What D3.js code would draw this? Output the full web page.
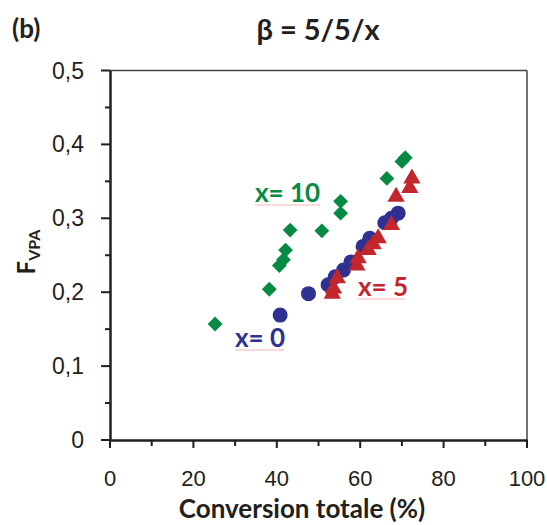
<!DOCTYPE html>
<html><head><meta charset="utf-8">
<script src="https://cdn.jsdelivr.net/npm/d3@7"></script>
<style>body{margin:0;background:#fff}svg{display:block;font-family:Lato,"Open Sans",sans-serif}</style>
</head><body><svg id="c" width="547" height="525"></svg>
<script>
// Series x = 0 (blue circles)
const x0Conv = [40.8, 47.6, 52.3, 54.0, 56.0, 57.8, 60.7, 62.3, 65.9, 67.5, 69.1];
const x0F    = [0.169, 0.198, 0.210, 0.221, 0.230, 0.241, 0.262, 0.273, 0.294, 0.300, 0.307];
// Series x = 5 (red triangles)
const x5Conv = [53.3, 53.6, 54.5, 59.2, 59.5, 61.9, 63.1, 64.3, 67.5, 68.6, 71.9, 72.4];
const x5F    = [0.198, 0.205, 0.219, 0.236, 0.246, 0.257, 0.265, 0.273, 0.291, 0.329, 0.341, 0.354];
// Series x = 10 (green diamonds)
const x10Conv = [25.2, 38.2, 40.6, 41.6, 42.1, 43.2, 50.8, 55.3, 55.3, 66.4, 70.0, 70.8];
const x10F    = [0.157, 0.204, 0.236, 0.244, 0.257, 0.284, 0.283, 0.307, 0.323, 0.354, 0.377, 0.382];
const xTicks = [0, 20, 40, 60, 80, 100];
const yTicks = [0, 0.1, 0.2, 0.3, 0.4, 0.5];

const svg = d3.select("#c");
const ink = "#231f20";
const cBlue = "#2e3192", cRed = "#c1272d", cGreen = "#078a43";
const x = d3.scaleLinear().domain([0, 100]).range([110, 527]);
const y = d3.scaleLinear().domain([0, 0.5]).range([440, 70.5]);

// frame (top & right)
svg.append("line").attr("x1", x(0)).attr("x2", x(100)).attr("y1", y(0.5)).attr("y2", y(0.5)).attr("stroke", "#444").attr("stroke-width", 1.5);
svg.append("line").attr("x1", x(100)).attr("x2", x(100)).attr("y1", y(0.5)).attr("y2", y(0)).attr("stroke", "#444").attr("stroke-width", 1.5);

// x axis
const gx = svg.append("g").attr("transform", `translate(0,${y(0)})`);
gx.call(d3.axisBottom(x).tickValues(d3.range(0, 101, 10)).tickSize(0).tickFormat(""));
gx.select(".domain").attr("stroke", ink).attr("stroke-width", 2.5);
gx.selectAll(".tick line").remove();
d3.range(0, 101, 10).forEach(v => {
  gx.append("line").attr("x1", x(v)).attr("x2", x(v)).attr("y1", 0).attr("y2", v % 20 === 0 ? 8 : 6)
    .attr("stroke", ink).attr("stroke-width", 2);
});
gx.selectAll(".tlab").data(xTicks).join("text").attr("class", "tlab")
  .attr("x", d => x(d)).attr("y", 46).attr("text-anchor", "middle")
  .attr("font-size", 22).attr("fill", ink).text(d => d);

// y axis
const gy = svg.append("g").attr("transform", `translate(${x(0)},0)`);
gy.call(d3.axisLeft(y).tickValues(yTicks).tickSize(0).tickFormat(""));
gy.select(".domain").attr("stroke", ink).attr("stroke-width", 2.5);
gy.selectAll(".tick line").remove();
d3.range(0, 11).forEach(i => {
  const v = i * 0.05;
  gy.append("line").attr("x1", 0).attr("x2", i % 2 === 0 ? -9 : -5).attr("y1", y(v)).attr("y2", y(v))
    .attr("stroke", ink).attr("stroke-width", 2);
});
gy.selectAll(".tlab").data(yTicks).join("text").attr("class", "tlab")
  .attr("x", -26).attr("y", d => y(d)).attr("dy", "0.35em").attr("text-anchor", "end")
  .attr("font-size", 23).attr("fill", ink).text(d => d === 0 ? "0" : d3.format(".1f")(d).replace(".", ","));

// titles
svg.append("text").attr("x", 12).attr("y", 38).attr("font-size", 26).attr("font-weight", "bold").attr("fill", ink).text("(b)");
svg.append("text").attr("x", 318).attr("y", 40).attr("text-anchor", "middle").attr("font-size", 29).attr("font-weight", "bold").attr("fill", ink).text("β = 5/5/x");
svg.append("text").attr("x", 302).attr("y", 518).attr("text-anchor", "middle").attr("font-size", 26).attr("font-weight", "bold").attr("fill", ink).text("Conversion totale (%)");
const yt = svg.append("text").attr("transform", "translate(35,252) rotate(-90)").attr("text-anchor", "middle")
  .attr("font-weight", "bold").attr("fill", ink).attr("font-size", 24);
yt.append("tspan").text("F");
yt.append("tspan").attr("font-size", 16).attr("dy", 5).text("VPA");

// data marks
const g10 = svg.append("g");
x10Conv.forEach((c, i) => {
  g10.append("path").attr("d", d3.symbol(d3.symbolSquare, 110)())
    .attr("transform", `translate(${x(c)},${y(x10F[i])}) rotate(45)`).attr("fill", cGreen);
});
const g0 = svg.append("g");
x0Conv.forEach((c, i) => {
  g0.append("circle").attr("cx", x(c)).attr("cy", y(x0F[i])).attr("r", 7.5).attr("fill", cBlue);
});
const g5 = svg.append("g");
x5Conv.forEach((c, i) => {
  g5.append("path").attr("d", d3.symbol(d3.symbolTriangle, 130)())
    .attr("transform", `translate(${x(c)},${y(x5F[i])})`).attr("fill", cRed);
});

// series labels
function lab(t, px, py, col, w) {
  svg.append("text").attr("x", px).attr("y", py).attr("font-size", 26).attr("font-weight", "bold").attr("fill", col).text(t);
  svg.append("line").attr("x1", px).attr("x2", px + w).attr("y1", py + 3).attr("y2", py + 3).attr("stroke", "#f2b6b8").attr("stroke-width", 1);
}
lab("x= 10", 255, 202, cGreen, 65);
lab("x= 5", 358, 296, cRed, 47);
lab("x= 0", 235, 347, cBlue, 49);
</script></body></html>
